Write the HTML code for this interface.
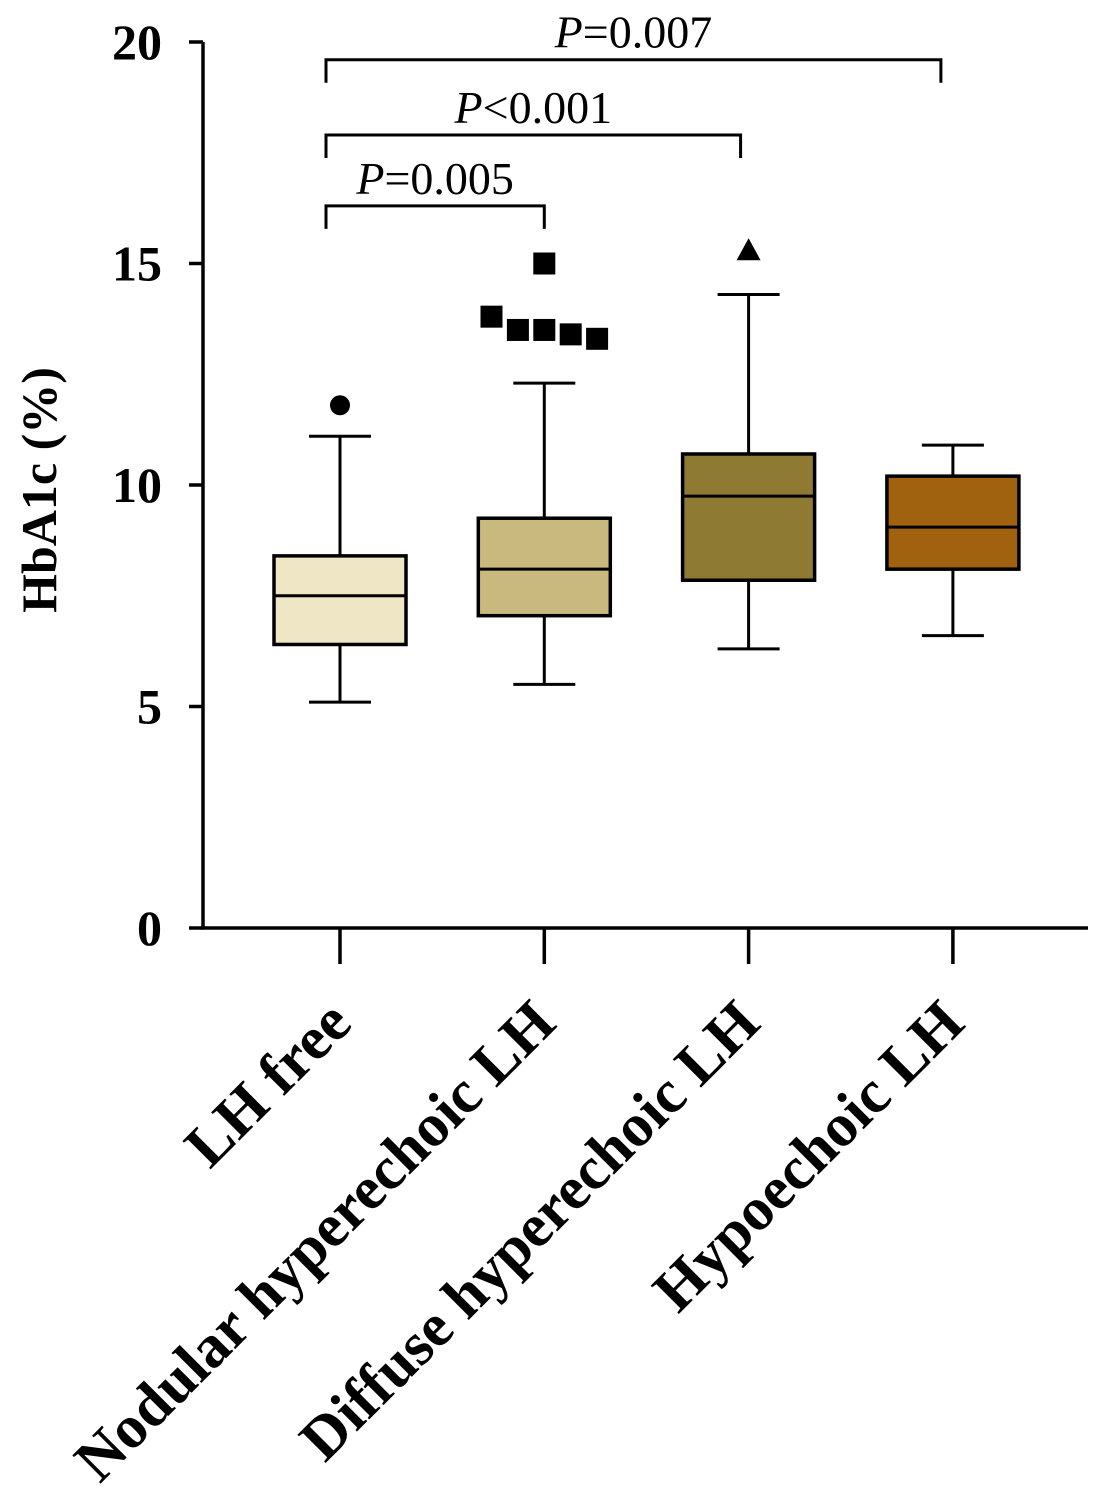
<!DOCTYPE html>
<html><head><meta charset="utf-8"><style>
html,body{margin:0;padding:0;background:#fff;}
svg{display:block;font-family:"Liberation Serif",serif;}
</style></head><body>
<svg id="chart" width="1105" height="1511" viewBox="0 0 1105 1511">
<g id="g"></g>
</svg>
<script>
const categories=["LH free","Nodular hyperechoic LH","Diffuse hyperechoic LH","Hypoechoic LH"];
const q1s=[6.4,7.05,7.85,8.1];
const medians=[7.5,8.1,9.75,9.05];
const q3s=[8.4,9.25,10.7,10.2];
const whiskLow=[5.1,5.5,6.3,6.6];
const whiskHigh=[11.1,12.3,14.3,10.9];
const fills=["#efe6c6","#c9b97e","#8f7a34","#a0620f"];
const outlierGroups=[0,1,1,1,1,1,2];
const outlierOffsets=[0,-0.4,-0.2,0,0.2,0.4,0];
const outlierValues=[11.8,13.8,13.5,13.5,13.4,13.3,15.3];
const extraOutliers=[[1,15.0]];
const yTicks=[0,5,10,15,20];
const comparisons=[[0,1,"=0.005",16.3],[0,2,"<0.001",17.9],[0,3,"=0.007",19.6]];

const NS="http://www.w3.org/2000/svg";
const g=document.getElementById('g');
const X0=203,X1=1088,Y0=928,Y20=42;
const y=v=>Y0-(v/20)*(Y0-Y20);
const xc=i=>340+i*204.3;
const bw=132;
function mk(t,a,p){const e=document.createElementNS(NS,t);for(const k in a)e.setAttribute(k,a[k]);(p||g).appendChild(e);return e;}

let e;
e=mk('line',{x1:X0,y1:Y20,x2:X0,y2:Y0,stroke:'#000','stroke-width':3.5});


e=mk('line',{x1:X0-2,y1:Y0,x2:X1,y2:Y0,stroke:'#000','stroke-width':3.5});



yTicks.forEach(v=>{
 e=mk('line',{x1:X0-14,y1:y(v),x2:X0,y2:y(v),stroke:'#000','stroke-width':3.5});
 
 
 e=mk('text',{x:162,y:y(v)+17,'text-anchor':'end','font-size':50,'font-weight':'bold'});
 e.textContent=v;
 
 
});

e=mk('text',{x:0,y:0,'text-anchor':'middle','font-size':50,'font-weight':'bold',transform:'translate(56,490) rotate(-90)'});
e.textContent='HbA1c (%)';



categories.forEach((c,i)=>{
 const x=xc(i);
 e=mk('line',{x1:x,y1:Y0,x2:x,y2:964,stroke:'#000','stroke-width':3.5});
 
 
 e=mk('text',{x:0,y:0,'text-anchor':'end','font-size':61,'font-weight':'bold',transform:`translate(${x+14},${1026}) rotate(-45)`});
 e.textContent=c;
 
 
 const bg=mk('g',{});
 
 
 const cap=62;
 mk('line',{x1:x,y1:y(whiskLow[i]),x2:x,y2:y(q1s[i]),stroke:'#000','stroke-width':3},bg);
 mk('line',{x1:x,y1:y(whiskHigh[i]),x2:x,y2:y(q3s[i]),stroke:'#000','stroke-width':3},bg);
 mk('line',{x1:x-cap/2,y1:y(whiskLow[i]),x2:x+cap/2,y2:y(whiskLow[i]),stroke:'#000','stroke-width':3},bg);
 mk('line',{x1:x-cap/2,y1:y(whiskHigh[i]),x2:x+cap/2,y2:y(whiskHigh[i]),stroke:'#000','stroke-width':3},bg);
 mk('rect',{x:x-bw/2,y:y(q3s[i]),width:bw,height:y(q1s[i])-y(q3s[i]),fill:fills[i],stroke:'#000','stroke-width':3.5},bg);
 mk('line',{x1:x-bw/2,y1:y(medians[i]),x2:x+bw/2,y2:y(medians[i]),stroke:'#000','stroke-width':3},bg);
});

function marker(grp,xx,v){
 const yy=y(v);
 if(grp===0) e=mk('circle',{cx:xx,cy:yy,r:10,fill:'#000'});
 else if(grp===1) e=mk('rect',{x:xx-11,y:yy-11,width:22,height:22,fill:'#000'});
 else e=mk('polygon',{points:`${xx},${yy-12} ${xx-12},${yy+10} ${xx+12},${yy+10}`,fill:'#000'});
 
 
}
outlierValues.forEach((v,k)=>marker(outlierGroups[k],xc(outlierGroups[k])+outlierOffsets[k]*bw,v));
extraOutliers.forEach(o=>marker(o[0],xc(o[0]),o[1]));

comparisons.forEach((c,k)=>{
 const x1=xc(c[0])-14,x2=xc(c[1])-(k===0?0:k===1?8:12),yy=y(c[3]);
 e=mk('path',{d:`M${x1},${yy+23} V${yy} H${x2} V${yy+23}`,fill:'none',stroke:'#000','stroke-width':3});
 
 
 e=mk('text',{x:(x1+x2)/2,y:yy-12,'text-anchor':'middle','font-size':46});
 e.innerHTML='<tspan font-style="italic">P</tspan>'+c[2].replace('<','&lt;');
 
 
});
</script>
</body></html>
